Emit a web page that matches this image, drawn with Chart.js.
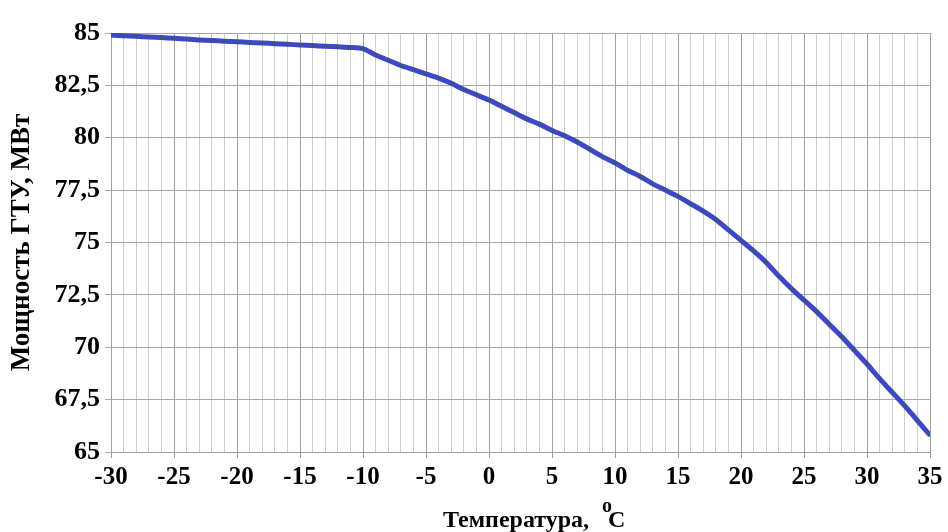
<!DOCTYPE html>
<html>
<head>
<meta charset="utf-8">
<script src="https://cdn.jsdelivr.net/npm/chart.js@4/dist/chart.umd.min.js"></script>
<style>
    html, body { margin: 0; padding: 0; background: #fff; }
    #wrap { width: 948px; height: 532px; }
</style>
</head>
<body>
<div id="wrap"><canvas id="powerChart" width="948" height="532"></canvas></div>
<script>
// Температура, °C (every degree)
const temps = [-30, -29, -28, -27, -26, -25, -24, -23, -22, -21, -20, -19, -18, -17, -16, -15, -14, -13, -12, -11,
    -10, -9, -8, -7, -6, -5, -4, -3, -2, -1, 0, 1, 2, 3, 4, 5, 6, 7, 8, 9,
    10, 11, 12, 13, 14, 15, 16, 17, 18, 19, 20, 21, 22, 23, 24, 25, 26, 27, 28, 29,
    30, 31, 32, 33, 34, 35];

// Мощность ГТУ, МВт
const power = [84.9, 84.87, 84.84, 84.81, 84.78, 84.75, 84.71, 84.67, 84.64, 84.61, 84.58, 84.55, 84.52, 84.49, 84.46, 84.43, 84.40, 84.37, 84.34, 84.31,
    84.25, 83.95, 83.7, 83.45, 83.25, 83.05, 82.85, 82.6, 82.3, 82.05, 81.8, 81.5, 81.2, 80.9, 80.65, 80.35, 80.1, 79.8, 79.45, 79.1,
    78.8, 78.45, 78.15, 77.8, 77.5, 77.2, 76.85, 76.5, 76.1, 75.6, 75.1, 74.6, 74.05, 73.4, 72.8, 72.25, 71.7, 71.1, 70.5, 69.85,
    69.2, 68.5, 67.85, 67.2, 66.5, 65.8];

const xMin = -30, xMax = 35, xLabelStep = 5;
const yMin = 65, yMax = 85, yStep = 2.5;

const yTitle = 'Мощность ГТУ, МВт';
const xTitle = 'Температура,';

const serif = '"Liberation Serif", "DejaVu Serif", serif';

// x title with superscript "o" before C
const xTitlePlugin = {
    id: 'xTitle',
    afterDraw(chart) {
        const ctx = chart.ctx;
        ctx.save();
        ctx.fillStyle = '#000';
        ctx.textBaseline = 'alphabetic';
        ctx.textAlign = 'left';
        const y = 527;
        let x = 443;
        ctx.font = 'bold 24px ' + serif;
        ctx.fillText(xTitle, x, y);
        x += ctx.measureText(xTitle).width + 13;
        ctx.font = 'bold 20px ' + serif;
        ctx.fillText('o', x, y - 15);
        x += 6;
        ctx.font = 'bold 24px ' + serif;
        ctx.fillText('C', x, y);
        ctx.restore();
    }
};

const isMajor = v => Math.abs(v % xLabelStep) < 1e-6;

new Chart(document.getElementById('powerChart'), {
    type: 'line',
    data: {
        datasets: [{
            data: temps.map((t, i) => ({ x: t, y: power[i] })),
            borderColor: '#3f47c8',
            borderWidth: 5,
            pointRadius: 1.8,
            pointBackgroundColor: '#2f5c6e',
            pointBorderWidth: 0,
            tension: 0.2,
            fill: false
        }]
    },
    options: {
        responsive: false,
        animation: false,
        devicePixelRatio: 1,
        layout: { padding: { top: 33, right: 18, left: 0, bottom: 0 } },
        plugins: {
            legend: { display: false },
            tooltip: { enabled: false }
        },
        scales: {
            x: {
                type: 'linear',
                min: xMin, max: xMax,
                ticks: {
                    stepSize: 1,
                    autoSkip: false,
                    maxRotation: 0,
                    color: '#000',
                    padding: 5,
                    font: { family: serif, size: 25, weight: 'bold' },
                    callback: v => isMajor(v) ? String(v) : ''
                },
                grid: {
                    color: c => isMajor(c.tick.value) ? '#9e9e9e' : '#cfcfcf',
                    tickColor: c => isMajor(c.tick.value) ? '#9e9e9e' : 'rgba(0,0,0,0)',
                    tickLength: 6,
                    lineWidth: 1
                },
                border: { color: '#9e9e9e' },
                afterFit: s => { s.height = 80; }
            },
            y: {
                min: yMin, max: yMax,
                ticks: {
                    stepSize: yStep,
                    color: '#000',
                    padding: 5,
                    font: { family: serif, size: 26, weight: 'bold' },
                    callback: v => String(v).replace('.', ',')
                },
                grid: { color: '#a8a8a8', tickColor: '#a8a8a8', tickLength: 6, lineWidth: 1 },
                border: { color: '#9e9e9e' },
                title: {
                    display: true,
                    text: yTitle,
                    color: '#000',
                    padding: { top: 6, bottom: 0 },
                    font: { family: serif, size: 27, weight: 'bold' }
                },
                afterFit: s => { s.width = 111; }
            }
        }
    },
    plugins: [xTitlePlugin]
});
</script>
</body>
</html>
